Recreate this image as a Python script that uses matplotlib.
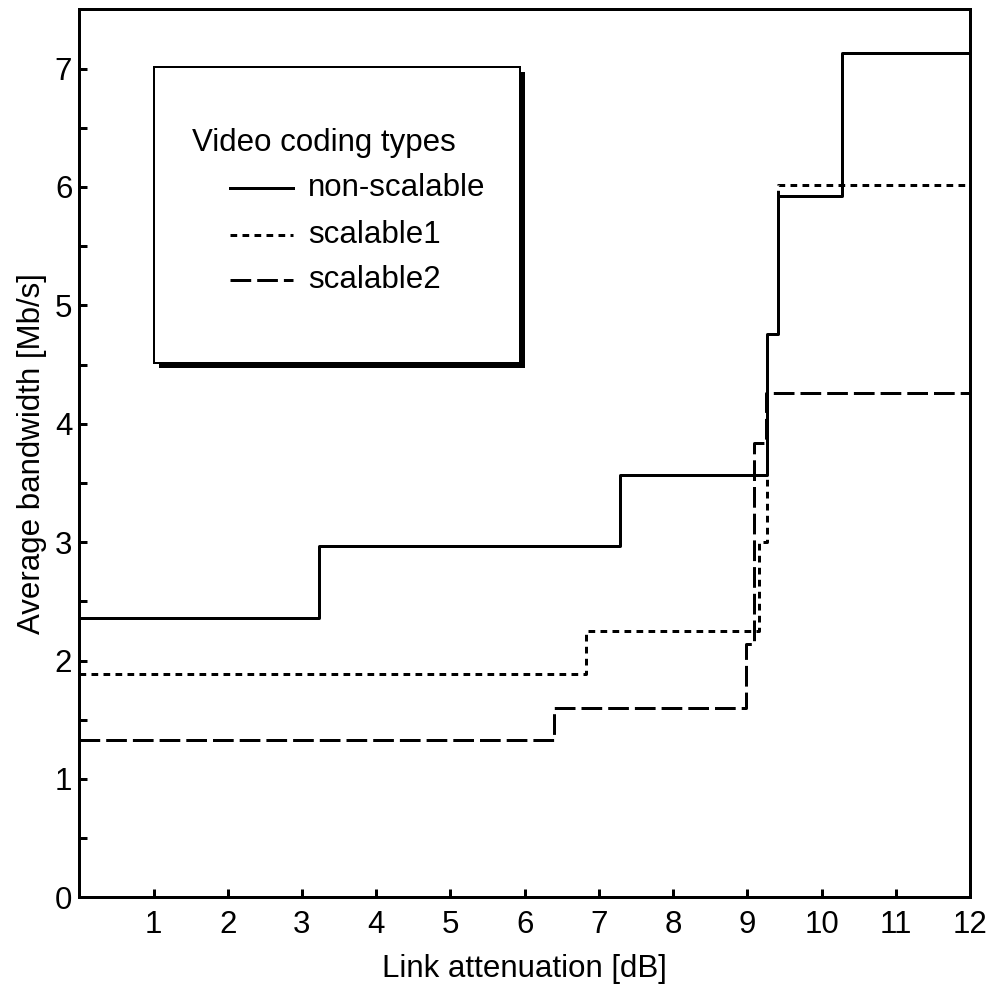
import matplotlib
matplotlib.use("Agg")
import matplotlib.pyplot as plt
from matplotlib.patches import Rectangle
from matplotlib.lines import Line2D

plt.rcParams['font.family'] = ['Liberation Sans', 'DejaVu Sans']
plt.rcParams['lines.scale_dashes'] = False

# Data (step functions, value holds until next breakpoint)
ns_x = [0, 3.23, 7.29, 9.26, 9.41, 10.27, 12]
ns_y = [2.36, 2.97, 3.57, 4.76, 5.92, 7.13, 7.13]

s1_x = [0, 6.82, 9.16, 9.27, 9.41, 12]
s1_y = [1.89, 2.25, 3.00, 4.76, 6.02, 6.02]

s2_x = [0, 6.39, 8.98, 9.09, 9.25, 12]
s2_y = [1.33, 1.60, 2.14, 3.84, 4.26, 4.26]

series_labels = ["non-scalable", "scalable1", "scalable2"]
legend_title = "Video coding types"
x_ticks = list(range(1, 13))
y_ticks = list(range(0, 8))

px = 0.72  # points per pixel at dpi 100
lw = 3 * px
fs = 22.5
styles = ['-', (0, (6.7 * px, 5.3 * px)), (0, (20.7 * px, 6.0 * px))]

fig = plt.figure(figsize=(9.91, 9.90), dpi=100)
ax = fig.add_axes([0.0800, 0.0936, 0.8988, 0.8970])

for xs, ys, ls, lab in zip([ns_x, s1_x, s2_x], [ns_y, s1_y, s2_y], styles, series_labels):
    ax.step(xs, ys, where='post', color='black', lw=lw, linestyle=ls, label=lab)

ax.set_xlim(0, 12)
ax.set_ylim(0, 7.5)
ax.set_xticks(x_ticks)
ax.set_yticks(y_ticks)
ax.set_yticks([v + 0.5 for v in y_ticks], minor=True)
for s in ax.spines.values():
    s.set_linewidth(lw)
ax.tick_params(axis='both', which='both', direction='in', width=lw, length=6,
               labelsize=fs, colors='black')
ax.tick_params(axis='x', pad=9)
ax.tick_params(axis='y', pad=5)
ax.set_xlabel("Link attenuation [dB]", fontsize=fs, labelpad=10)
ax.set_ylabel("Average bandwidth [Mb/s]", fontsize=fs, labelpad=6)

# Legend box with drop shadow (axes fraction coords)
bx0, by0, bx1, by1 = 0.0839, 0.6017, 0.4948, 0.9347
dx = 5 / 890.7
dy = 5 / 888.0
ax.add_patch(Rectangle((bx0 + dx, by0 - dy), bx1 - bx0, by1 - by0, transform=ax.transAxes,
                       facecolor='black', edgecolor='black', lw=0, zorder=5))
ax.add_patch(Rectangle((bx0, by0), bx1 - bx0, by1 - by0, transform=ax.transAxes,
                       facecolor='white', edgecolor='black', lw=2 * px, zorder=6))
ax.text(0.1262, 0.8500, legend_title, transform=ax.transAxes, fontsize=fs,
        va='center', ha='left', zorder=7)
rows = [0.7988, 0.7458, 0.6952]
for yy, ls, lab in zip(rows, styles, series_labels):
    ax.add_line(Line2D([0.1692, 0.2400], [yy, yy], transform=ax.transAxes, color='black',
                       lw=lw, linestyle=ls, zorder=7))
    ax.text(0.2568, yy, lab, transform=ax.transAxes, fontsize=fs, va='center', ha='left', zorder=7)

fig.savefig("out.png", dpi=100)
